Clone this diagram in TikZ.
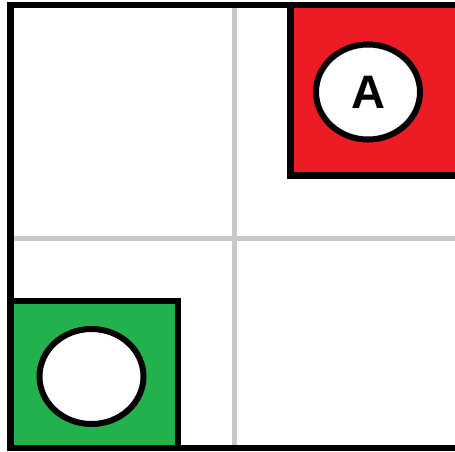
\documentclass[tikz,border=0pt]{standalone}
\usepackage{fontspec}
\setmainfont{Liberation Sans}
\usetikzlibrary{shapes.geometric}

\begin{document}
\begin{tikzpicture}[
    x=1pt,
    y=-1pt,
    gridline/.style={
        draw=gridgrey,
        line width=4.5pt
    },
    cornerbox/.style={
        draw=black,
        line width=6.5pt
    },
    token/.style={
        ellipse,
        draw=black,
        line width=6pt,
        fill=white,
        minimum width=104pt,
        minimum height=95pt,
        inner sep=0pt,
        font=\fontsize{47}{56}\selectfont\bfseries
    }
]
\definecolor{gridgrey}{RGB}{200,200,200}
\definecolor{paintred}{RGB}{237,28,36}
\definecolor{paintgreen}{RGB}{34,177,76}

\useasboundingbox (0,0) rectangle (455,451);

% Quadrant lines
\coordinate (vtop) at (234.5,8);
\coordinate (vbot) at (234.5,445);
\coordinate (hleft) at (13,238.5);
\coordinate (hright) at (455,238.5);
\draw[gridline] (vtop) -- (vbot);
\draw[gridline] (hleft) -- (hright);

% Goal corner and start corner
\fill[paintred] (290.5,5) rectangle (460,175.5);
\draw[cornerbox] (290.5,5) -- (290.5,175.5) -- (460,175.5);
\fill[paintgreen] (10.5,301) rectangle (178,448);
\draw[cornerbox] (10.5,301) -- (178,301) -- (178,448);

\node[token] (goal) at (368,92) {A};
\node[token] (start) at (91.5,376.5) {};

% Outer frame
\draw[line width=6.5pt] (10.5,451) -- (10.5,5) -- (460,5);
\draw[line width=6.5pt] (10.5,448) -- (460,448);
\end{tikzpicture}
\end{document}
